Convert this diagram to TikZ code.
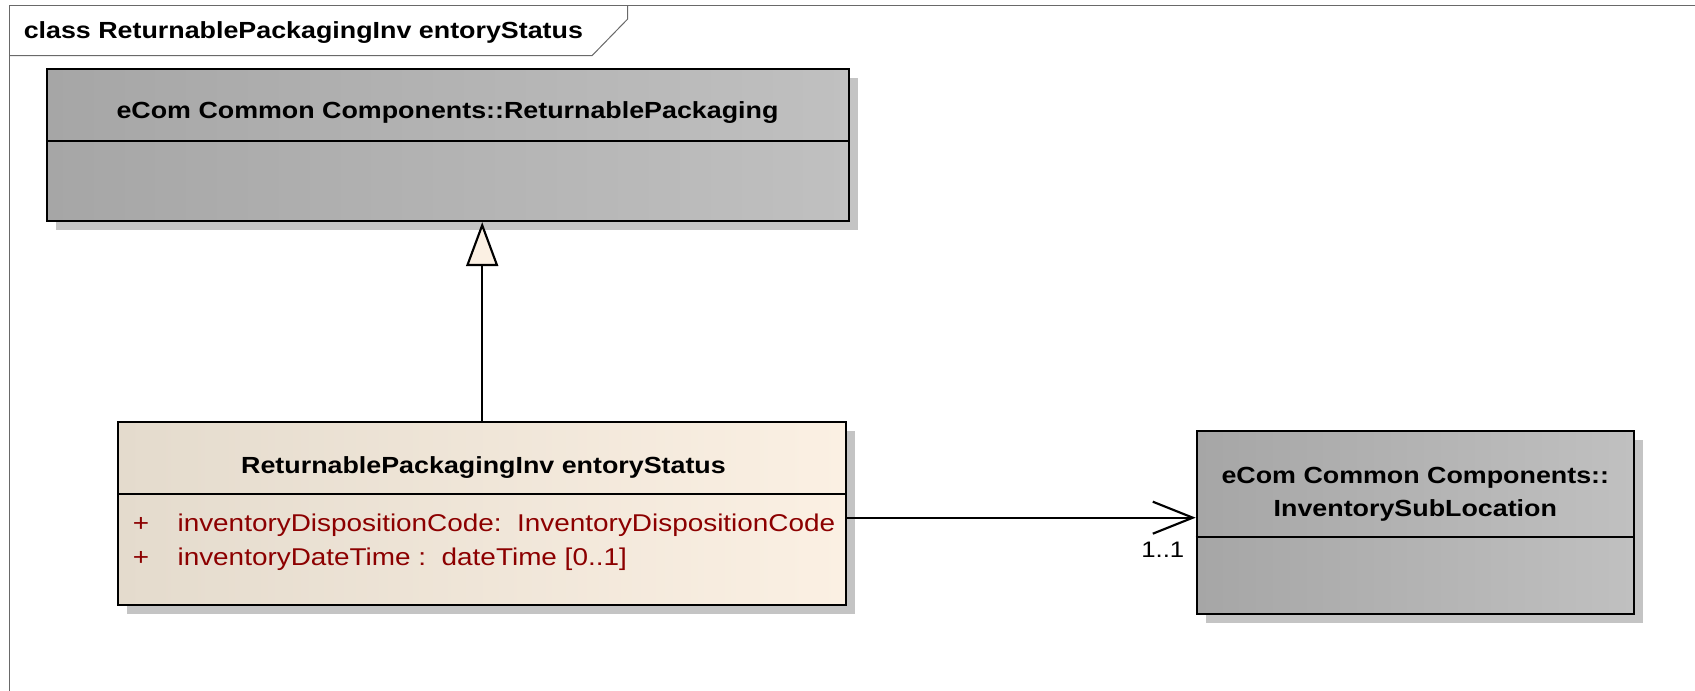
\documentclass[tikz,border=0pt]{standalone}
\usepackage{fontspec}
\setmainfont{Liberation Sans}[FakeStretch=1.15]
\usetikzlibrary{arrows.meta,positioning,shadows}
\definecolor{eagray}{RGB}{192,192,192}
\definecolor{eagraydark}{RGB}{166,166,166}
\definecolor{linenleft}{RGB}{228,219,205}
\definecolor{linenright}{RGB}{251,240,227}
\definecolor{shadowgray}{RGB}{196,196,196}
\definecolor{attrred}{RGB}{140,0,0}
\definecolor{framegray}{RGB}{105,105,105}

\tikzset{
  classbox/.style={draw, line width=1.7pt, inner sep=0pt,
    drop shadow={shadow xshift=6.75pt, shadow yshift=-6.75pt, fill=shadowgray, opacity=1}},
  extbox/.style={classbox, left color=eagraydark, middle color=eagray, right color=eagray},
  ownbox/.style={classbox, left color=linenleft, middle color=linenright, right color=linenright},
  classname/.style={font=\bfseries\fontsize{17.5}{25}\selectfont, inner sep=0pt, align=center, anchor=base},
  attr/.style={font=\fontsize{18.2}{22}\selectfont, text=attrred, inner sep=0pt, anchor=base west},
  divider/.style={line width=1.7pt},
  link/.style={line width=1.6pt},
  frameline/.style={framegray, line width=0.75pt},
}

\begin{document}
\begin{tikzpicture}[x=0.75pt,y=0.75pt,yscale=-1,xscale=1]
\useasboundingbox (0,0) rectangle (1695,691);

%Frame
\draw [frameline] (9,691) -- (9,5.7) -- (1695,5.7) ;
\draw [frameline] (9,55.7) -- (592,55.7) -- (627.7,19) -- (627.7,5.7) ;
% Text Node
\node [anchor=base west, inner sep=0pt, font=\bfseries\fontsize{17.5}{21}\selectfont] (frametitle) at (23.5,38.3) {class ReturnablePackagingInv entoryStatus};

%Class: ReturnablePackaging
\node [extbox, minimum width=601.5pt, minimum height=114pt] (rp) at (448,145) {};
\draw [divider] (rp.west |- 0,140.7) -- (rp.east |- 0,140.7) ;
\node [classname] (rpname) at (447.5,118.3) {eCom Common Components::ReturnablePackaging};

%Class: ReturnablePackagingInventoryStatus
\node [ownbox, minimum width=546pt, minimum height=137.25pt] (rpis) at (482.2,513.7) {};
\draw [divider] (rpis.west |- 0,494.3) -- (rpis.east |- 0,494.3) ;
\node [classname] (rpisname) at (483.5,473.3) {ReturnablePackagingInv entoryStatus};
\node [attr] (plusone) at (132.7,531.7) {+};
\node [attr] (attrcode) at (177.3,531.7) {inventoryDispositionCode:\ \ InventoryDispositionCode};
\node [attr] (plustwo) at (132.7,565) {+};
\node [attr] (attrtime) at (177.3,565) {inventoryDateTime :\ \ dateTime [0..1]};

%Class: InventorySubLocation
\node [extbox, minimum width=327.75pt, minimum height=137.25pt] (isl) at (1415.3,522.3) {};
\draw [divider] (isl.west |- 0,536.7) -- (isl.east |- 0,536.7) ;
\node [classname] (islname) at (1415.3,516.5) {eCom Common Components::\\InventorySubLocation};

%Generalization
\draw [link, -{Triangle[length=33pt, width=24pt, fill=linenright]}] (rpis.north) -- (rpis.north |- rp.south) ;

%Association
\draw [link, -{Straight Barb[length=30pt, width=24pt]}] ([yshift=3pt]rpis.east) -- ([yshift=3pt]rpis.east -| isl.west) ;
% Text Node
\node [anchor=base east, inner sep=0pt, font=\fontsize{16.8}{19}\selectfont] (mult) at (1184.5,557.3) {1..1};

\end{tikzpicture}
\end{document}
